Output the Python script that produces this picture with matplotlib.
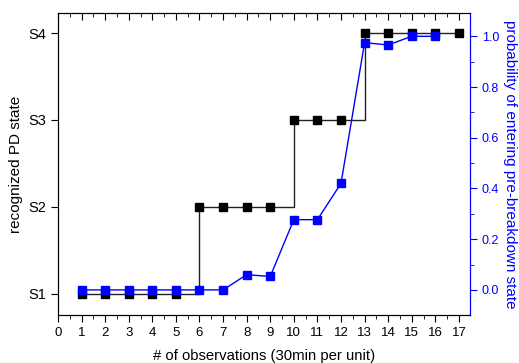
import matplotlib.pyplot as plt
from matplotlib.ticker import MultipleLocator

plt.rcParams['font.family'] = ['Liberation Sans', 'DejaVu Sans']

# data
obs = list(range(1, 18))
state = [1, 1, 1, 1, 1, 2, 2, 2, 2, 3, 3, 3, 4, 4, 4, 4, 4]
obs_p = list(range(1, 17))
prob = [0.0, 0.0, 0.0, 0.0, 0.0, 0.0, 0.0, 0.06, 0.053, 0.277, 0.277, 0.42,
        0.975, 0.966, 1.0, 1.0]
state_labels = ['S1', 'S2', 'S3', 'S4']

fig = plt.figure(figsize=(5.19, 3.63), dpi=100)
ax = fig.add_axes([58/519, 48/363, 412/519, 302/363])
ax2 = ax.twinx()

ax.plot(obs, state, drawstyle='steps-post', color='#222222', lw=1.0)
ax.plot(obs, state, ls='none', marker='s', ms=5.2, color='black')
ax2.plot(obs_p, prob, color='#0000ff', lw=1.0, marker='s', ms=5.2,
         mfc='#0000ff', mec='#0000ff')

ax.set_xlim(0, 17.47)
ax.set_ylim(0.758, 4.23)
ax2.set_ylim(-0.099, 1.092)

ax.set_yticks([1, 2, 3, 4])
ax.set_yticklabels(state_labels)
ax.xaxis.set_major_locator(MultipleLocator(1))
ax.xaxis.set_minor_locator(MultipleLocator(0.5))
ax.tick_params(axis='x', which='major', direction='out', length=5, labelsize=9.5,
               top=True)
ax.tick_params(axis='x', which='minor', direction='out', length=3, top=True)
ax.tick_params(axis='y', which='major', direction='out', length=5, labelsize=10.5)
ax.set_xlabel('# of observations (30min per unit)', fontsize=10.7, labelpad=7)
ax.set_ylabel('recognized PD state', fontsize=11)

# top ticks pointing into the plot
for t in ax.xaxis.get_major_ticks():
    t.tick2line.set_marker(3)
    t.tick2line.set_markersize(5)
for t in ax.xaxis.get_minor_ticks():
    t.tick2line.set_marker(3)
    t.tick2line.set_markersize(3)

ax2.yaxis.set_major_locator(MultipleLocator(0.2))
ax2.yaxis.set_minor_locator(MultipleLocator(0.1))
ax2.tick_params(axis='y', which='both', colors='#0000ff', direction='out')
ax2.tick_params(axis='y', which='major', length=5, labelsize=9)
ax2.tick_params(axis='y', which='minor', length=3)
ax2.yaxis.set_major_formatter(plt.FuncFormatter(lambda v, p: f'{v:.1f}'))
ax2.spines['right'].set_color('#0000ff')
ax2.set_ylabel('probability of entering pre-breakdown state', color='#0000ff',
               fontsize=11, rotation=270, labelpad=13)

fig.savefig('out.png', dpi=100)
